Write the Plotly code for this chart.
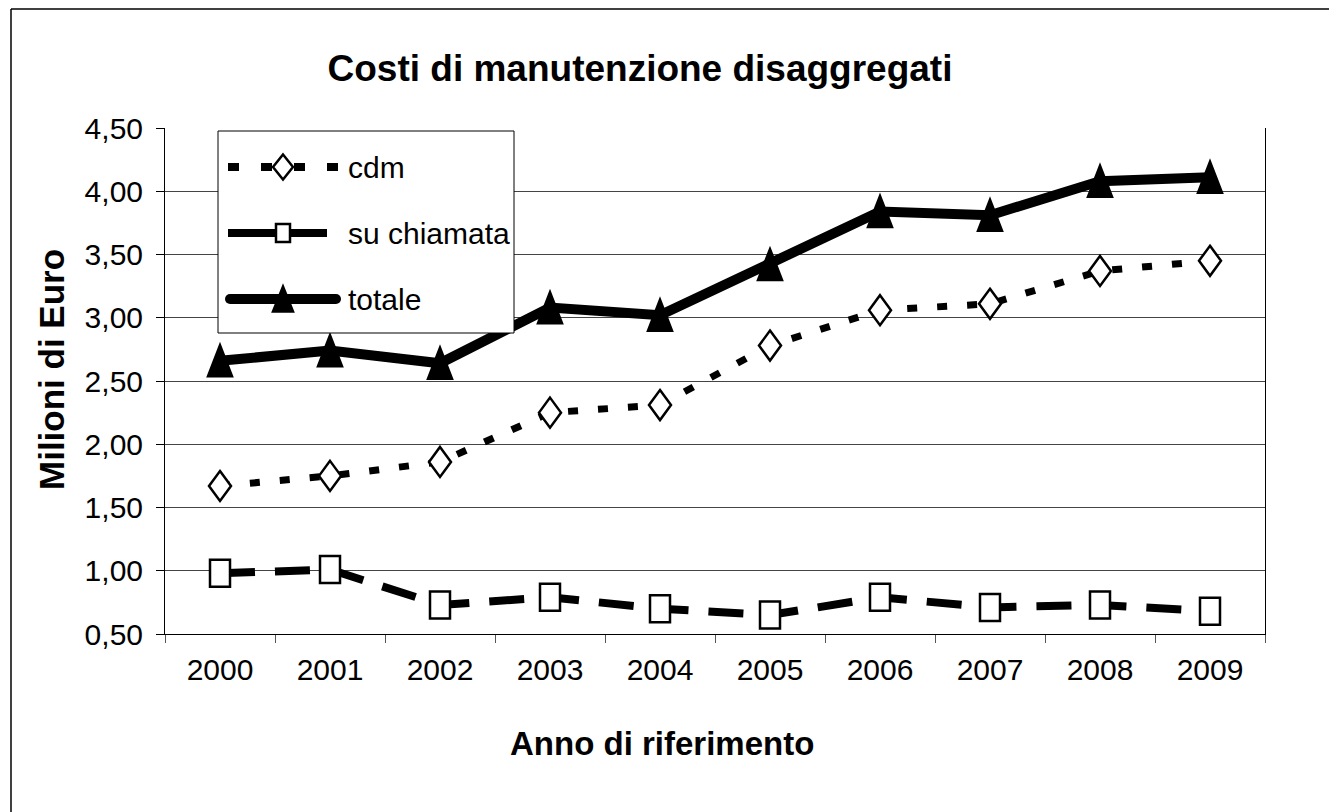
import plotly.graph_objects as go

# ---------------- data ----------------
years = ["2000", "2001", "2002", "2003", "2004", "2005", "2006", "2007", "2008", "2009"]
cdm = [1.67, 1.75, 1.86, 2.25, 2.31, 2.78, 3.06, 3.11, 3.37, 3.45]
su_chiamata = [0.98, 1.01, 0.73, 0.79, 0.70, 0.65, 0.79, 0.71, 0.73, 0.68]
totale = [2.66, 2.74, 2.64, 3.08, 3.02, 3.42, 3.84, 3.81, 4.08, 4.11]
series_names = ["cdm", "su chiamata", "totale"]
y_ticks = [0.5, 1.0, 1.5, 2.0, 2.5, 3.0, 3.5, 4.0, 4.5]

title_text = "Costi di manutenzione disaggregati"
x_title = "Anno di riferimento"
y_title = "Milioni di Euro"

# ---------------- layout geometry ----------------
W, H = 1337, 812
OFF = 8  # default page body margin
PL, PR, PT, PB = 165, 1265, 128, 634  # plot area in screen pixels

FONT = "Liberation Sans, Arial, sans-serif"


def px(x):
    return (x - PL) / (PR - PL)


def py(y):
    return (PB - y) / (PB - PT)


# marker paths (pixel units, y up)
DIAMOND = "M 0 15 L 11 0 L 0 -15 L -11 0 Z"
SQUARE = "M -10 -13.5 L 10 -13.5 L 10 13.5 L -10 13.5 Z"
TRIANGLE = "M -12 -15.5 L 12 -15.5 L 0 15.5 Z"

fig = go.Figure()

styles = [
    dict(vals=cdm, width=7, dash="10px,20px", path=DIAMOND, fill="white"),
    dict(vals=su_chiamata, width=8, dash="35px,20px", path=SQUARE, fill="white"),
    dict(vals=totale, width=10, dash="solid", path=TRIANGLE, fill="black"),
]

for name, st in zip(series_names, styles):
    fig.add_trace(go.Scatter(
        x=years, y=st["vals"], name=name, mode="lines",
        line=dict(color="black", width=st["width"], dash=st["dash"]),
        showlegend=False,
    ))

shapes = []
# data markers as pixel-sized shapes anchored at the data coordinates
for st in styles:
    for i, yv in enumerate(st["vals"]):
        shapes.append(dict(
            type="path", xref="x", yref="y",
            xsizemode="pixel", ysizemode="pixel",
            xanchor=i, yanchor=yv, path=st["path"],
            fillcolor=st["fill"], line=dict(color="black", width=2.5),
            layer="above",
        ))

# outer chart border (left and top visible)
shapes.append(dict(type="line", xref="paper", yref="paper",
                   x0=px(11), x1=px(11), y0=py(9), y1=py(840),
                   line=dict(color="black", width=1.5)))
shapes.append(dict(type="line", xref="paper", yref="paper",
                   x0=px(11), x1=px(1380), y0=py(9), y1=py(9),
                   line=dict(color="black", width=1.5)))

# ---------------- manual legend ----------------
shapes.append(dict(type="rect", xref="paper", yref="paper",
                   x0=px(218), x1=px(514), y0=py(131), y1=py(333),
                   fillcolor="white", line=dict(color="black", width=1), layer="above"))

leg_rows = [167, 233, 299]
leg_paths = [
    "M 0 12.5 L 10 0 L 0 -12.5 L -10 0 Z",
    "M -7 -9 L 7 -9 L 7 9 L -7 9 Z",
    "M -10 -12.5 L 10 -12.5 L 0 12.5 Z",
]
leg_lines = [
    dict(x0=228, x1=340, width=8, dash="11px,22px", cap=False),
    dict(x0=228, x1=327, width=8, dash="solid", cap=False),
    dict(x0=230, x1=336, width=10, dash="solid", cap=True),
]
annotations = []
for name, st, yrow, lp, ll in zip(series_names, styles, leg_rows, leg_paths, leg_lines):
    shapes.append(dict(type="line", xref="paper", yref="paper",
                       x0=px(ll["x0"]), x1=px(ll["x1"]), y0=py(yrow), y1=py(yrow),
                       line=dict(color="black", width=ll["width"], dash=ll["dash"]),
                       layer="above"))
    if ll["cap"]:
        for cx in (ll["x0"], ll["x1"]):
            shapes.append(dict(type="circle", xref="paper", yref="paper",
                               xsizemode="pixel", ysizemode="pixel",
                               xanchor=px(cx), yanchor=py(yrow),
                               x0=-5, x1=5, y0=-5, y1=5,
                               fillcolor="black", line=dict(width=0), layer="above"))
    shapes.append(dict(type="path", xref="paper", yref="paper",
                       xsizemode="pixel", ysizemode="pixel",
                       xanchor=px(283), yanchor=py(yrow), path=lp,
                       fillcolor=st["fill"], line=dict(color="black", width=2.5),
                       layer="above"))
    annotations.append(dict(text=name, xref="paper", yref="paper",
                            x=px(346), y=py(yrow), xanchor="left", yanchor="middle",
                            showarrow=False,
                            font=dict(family=FONT, size=30, color="black")))

# axis titles
annotations.append(dict(text=y_title, xref="paper", yref="paper",
                        x=px(51), y=py(370), textangle=-90,
                        xanchor="center", yanchor="middle", showarrow=False,
                        font=dict(family=FONT, size=35, color="black", weight="bold")))
annotations.append(dict(text=x_title, xref="paper", yref="paper",
                        x=px(662), y=py(743),
                        xanchor="center", yanchor="middle", showarrow=False,
                        font=dict(family=FONT, size=33, color="black", weight="bold")))

fig.update_layout(
    width=W, height=H,
    margin=dict(l=PL - OFF, r=W - (PR - OFF), t=PT - OFF, b=H - (PB - OFF), autoexpand=False),
    paper_bgcolor="white", plot_bgcolor="white",
    separators=",.",
    showlegend=False,
    title=dict(text=title_text, xref="container", yref="container",
               x=(640 - OFF) / W, y=1 - (68 - OFF) / H, xanchor="center", yanchor="middle",
               font=dict(family=FONT, size=37, color="black", weight="bold")),
    shapes=shapes,
    annotations=annotations,
)

fig.update_xaxes(
    type="category", categoryorder="array", categoryarray=years,
    range=[-0.5, len(years) - 0.5],
    showgrid=False, zeroline=False,
    showline=True, linecolor="black", linewidth=1,
    ticks="outside", tickson="boundaries", ticklen=8, tickcolor="#555", tickwidth=1,
    tickfont=dict(family=FONT, size=30, color="black"),
    ticklabelstandoff=9,
)
fig.update_yaxes(
    range=[0.5, 4.5], tickmode="array", tickvals=y_ticks, tickformat=".2f",
    showgrid=True, gridcolor="#444", gridwidth=1.3,
    zeroline=False,
    showline=True, linecolor="black", linewidth=1,
    mirror=True,
    ticks="outside", ticklen=8, tickcolor="black", tickwidth=1,
    tickfont=dict(family=FONT, size=30, color="black"),
    ticklabelstandoff=7,
)

fig.write_html("out.html")
